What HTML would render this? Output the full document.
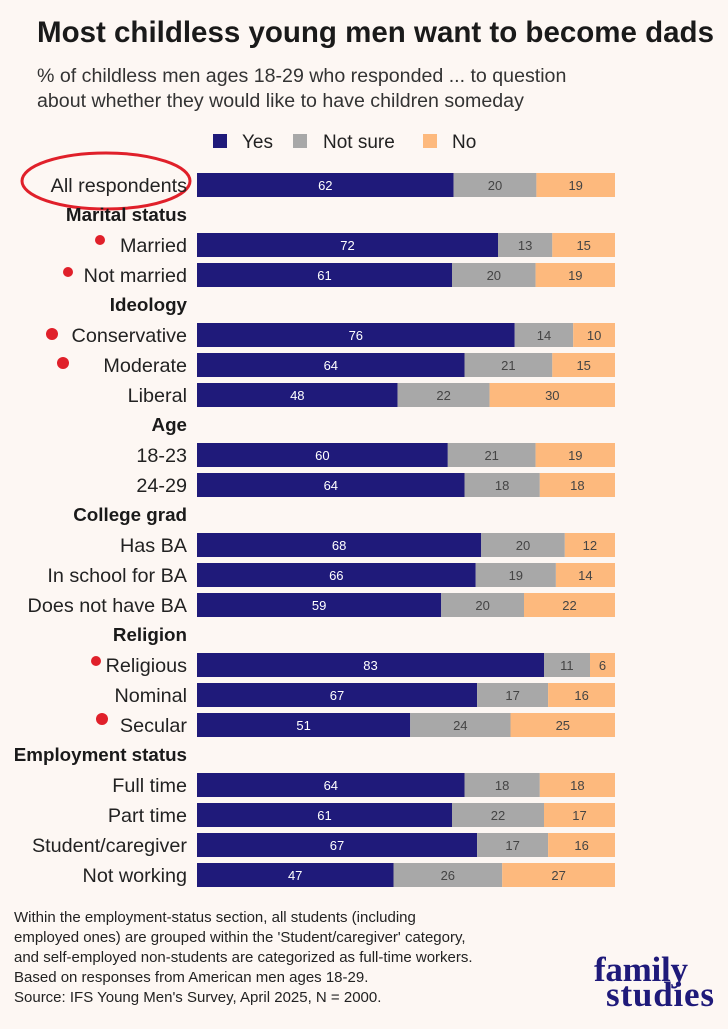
<!DOCTYPE html>
<html><head><meta charset="utf-8"><style>
body{margin:0;background:#fdf7f3;}
svg text{font-family:"Liberation Sans",sans-serif;}
.l{font-size:19.8px;text-anchor:end;fill:#222}
.h{font-size:18.8px;font-weight:bold;text-anchor:end;fill:#1a1a1a}
.v{font-size:13px;text-anchor:middle;fill:#444}
.w{font-size:13px;text-anchor:middle;fill:#fff}
.y{fill:#1f1a7a}.n{fill:#a8a8a8}.o{fill:#fdb97d}
</style></head><body>
<svg width="728" height="1024" viewBox="0 0 728 1024" xmlns="http://www.w3.org/2000/svg">
<rect width="728" height="1024" fill="#fdf7f3"/>
<text x="37" y="42" font-size="29.5" font-weight="bold" fill="#1a1a1a">Most childless young men want to become dads</text>
<text x="37" y="82" font-size="19.6" fill="#333">% of childless men ages 18-29 who responded ... to question</text>
<text x="37" y="107" font-size="19.6" fill="#333">about whether they would like to have children someday</text>
<rect x="213" y="134" width="14" height="14" fill="#1f1a7a"/><text x="242" y="148" font-size="19" fill="#222">Yes</text>
<rect x="293" y="134" width="14" height="14" fill="#a8a8a8"/><text x="323" y="148" font-size="19" fill="#222">Not sure</text>
<rect x="423" y="134" width="14" height="14" fill="#fdb97d"/><text x="452" y="148" font-size="19" fill="#222">No</text>
<ellipse cx="106" cy="181" rx="84" ry="28" fill="none" stroke="#e0202a" stroke-width="3"/>

<g transform="translate(0,185)"><text x="187" y="7" class="l">All respondents</text><rect x="197" y="-12" width="256.6" height="24" class="y"/><rect x="453.6" y="-12" width="82.8" height="24" class="n"/><rect x="536.4" y="-12" width="78.6" height="24" class="o"/><text x="325.3" y="5" class="w">62</text><text x="495" y="5" class="v">20</text><text x="575.7" y="5" class="v">19</text></g>
<text x="187" y="221" class="h">Marital status</text>
<g transform="translate(0,245)"><text x="187" y="7" class="l">Married</text><rect x="197" y="-12" width="301" height="24" class="y"/><rect x="498" y="-12" width="54.3" height="24" class="n"/><rect x="552.3" y="-12" width="62.7" height="24" class="o"/><text x="347.5" y="5" class="w">72</text><text x="525.1" y="5" class="v">13</text><text x="583.7" y="5" class="v">15</text></g>
<g transform="translate(0,275)"><text x="187" y="7" class="l">Not married</text><rect x="197" y="-12" width="255" height="24" class="y"/><rect x="452" y="-12" width="83.6" height="24" class="n"/><rect x="535.6" y="-12" width="79.4" height="24" class="o"/><text x="324.5" y="5" class="w">61</text><text x="493.8" y="5" class="v">20</text><text x="575.3" y="5" class="v">19</text></g>
<text x="187" y="311" class="h">Ideology</text>
<g transform="translate(0,335)"><text x="187" y="7" class="l">Conservative</text><rect x="197" y="-12" width="317.7" height="24" class="y"/><rect x="514.7" y="-12" width="58.5" height="24" class="n"/><rect x="573.2" y="-12" width="41.8" height="24" class="o"/><text x="355.8" y="5" class="w">76</text><text x="544" y="5" class="v">14</text><text x="594.1" y="5" class="v">10</text></g>
<g transform="translate(0,365)"><text x="187" y="7" class="l">Moderate</text><rect x="197" y="-12" width="267.5" height="24" class="y"/><rect x="464.5" y="-12" width="87.8" height="24" class="n"/><rect x="552.3" y="-12" width="62.7" height="24" class="o"/><text x="330.8" y="5" class="w">64</text><text x="508.4" y="5" class="v">21</text><text x="583.7" y="5" class="v">15</text></g>
<g transform="translate(0,395)"><text x="187" y="7" class="l">Liberal</text><rect x="197" y="-12" width="200.6" height="24" class="y"/><rect x="397.6" y="-12" width="92" height="24" class="n"/><rect x="489.6" y="-12" width="125.4" height="24" class="o"/><text x="297.3" y="5" class="w">48</text><text x="443.6" y="5" class="v">22</text><text x="552.3" y="5" class="v">30</text></g>
<text x="187" y="431" class="h">Age</text>
<g transform="translate(0,455)"><text x="187" y="7" class="l">18-23</text><rect x="197" y="-12" width="250.8" height="24" class="y"/><rect x="447.8" y="-12" width="87.8" height="24" class="n"/><rect x="535.6" y="-12" width="79.4" height="24" class="o"/><text x="322.4" y="5" class="w">60</text><text x="491.7" y="5" class="v">21</text><text x="575.3" y="5" class="v">19</text></g>
<g transform="translate(0,485)"><text x="187" y="7" class="l">24-29</text><rect x="197" y="-12" width="267.5" height="24" class="y"/><rect x="464.5" y="-12" width="75.3" height="24" class="n"/><rect x="539.8" y="-12" width="75.2" height="24" class="o"/><text x="330.8" y="5" class="w">64</text><text x="502.1" y="5" class="v">18</text><text x="577.4" y="5" class="v">18</text></g>
<text x="187" y="521" class="h">College grad</text>
<g transform="translate(0,545)"><text x="187" y="7" class="l">Has BA</text><rect x="197" y="-12" width="284.2" height="24" class="y"/><rect x="481.2" y="-12" width="83.6" height="24" class="n"/><rect x="564.8" y="-12" width="50.2" height="24" class="o"/><text x="339.1" y="5" class="w">68</text><text x="523" y="5" class="v">20</text><text x="589.9" y="5" class="v">12</text></g>
<g transform="translate(0,575)"><text x="187" y="7" class="l">In school for BA</text><rect x="197" y="-12" width="278.7" height="24" class="y"/><rect x="475.7" y="-12" width="80.2" height="24" class="n"/><rect x="555.9" y="-12" width="59.1" height="24" class="o"/><text x="336.3" y="5" class="w">66</text><text x="515.8" y="5" class="v">19</text><text x="585.4" y="5" class="v">14</text></g>
<g transform="translate(0,605)"><text x="187" y="7" class="l">Does not have BA</text><rect x="197" y="-12" width="244.2" height="24" class="y"/><rect x="441.2" y="-12" width="82.8" height="24" class="n"/><rect x="524" y="-12" width="91" height="24" class="o"/><text x="319.1" y="5" class="w">59</text><text x="482.6" y="5" class="v">20</text><text x="569.5" y="5" class="v">22</text></g>
<text x="187" y="641" class="h">Religion</text>
<g transform="translate(0,665)"><text x="187" y="7" class="l">Religious</text><rect x="197" y="-12" width="347" height="24" class="y"/><rect x="544" y="-12" width="46" height="24" class="n"/><rect x="590" y="-12" width="25" height="24" class="o"/><text x="370.5" y="5" class="w">83</text><text x="566.9" y="5" class="v">11</text><text x="602.5" y="5" class="v">6</text></g>
<g transform="translate(0,695)"><text x="187" y="7" class="l">Nominal</text><rect x="197" y="-12" width="280.1" height="24" class="y"/><rect x="477.1" y="-12" width="71" height="24" class="n"/><rect x="548.1" y="-12" width="66.9" height="24" class="o"/><text x="337" y="5" class="w">67</text><text x="512.6" y="5" class="v">17</text><text x="581.6" y="5" class="v">16</text></g>
<g transform="translate(0,725)"><text x="187" y="7" class="l">Secular</text><rect x="197" y="-12" width="213.2" height="24" class="y"/><rect x="410.2" y="-12" width="100.3" height="24" class="n"/><rect x="510.5" y="-12" width="104.5" height="24" class="o"/><text x="303.6" y="5" class="w">51</text><text x="460.3" y="5" class="v">24</text><text x="562.8" y="5" class="v">25</text></g>
<text x="187" y="761" class="h">Employment status</text>
<g transform="translate(0,785)"><text x="187" y="7" class="l">Full time</text><rect x="197" y="-12" width="267.5" height="24" class="y"/><rect x="464.5" y="-12" width="75.3" height="24" class="n"/><rect x="539.8" y="-12" width="75.2" height="24" class="o"/><text x="330.8" y="5" class="w">64</text><text x="502.1" y="5" class="v">18</text><text x="577.4" y="5" class="v">18</text></g>
<g transform="translate(0,815)"><text x="187" y="7" class="l">Part time</text><rect x="197" y="-12" width="255" height="24" class="y"/><rect x="452" y="-12" width="92" height="24" class="n"/><rect x="544" y="-12" width="71" height="24" class="o"/><text x="324.5" y="5" class="w">61</text><text x="498" y="5" class="v">22</text><text x="579.5" y="5" class="v">17</text></g>
<g transform="translate(0,845)"><text x="187" y="7" class="l">Student/caregiver</text><rect x="197" y="-12" width="280.1" height="24" class="y"/><rect x="477.1" y="-12" width="71" height="24" class="n"/><rect x="548.1" y="-12" width="66.9" height="24" class="o"/><text x="337" y="5" class="w">67</text><text x="512.6" y="5" class="v">17</text><text x="581.6" y="5" class="v">16</text></g>
<g transform="translate(0,875)"><text x="187" y="7" class="l">Not working</text><rect x="197" y="-12" width="196.5" height="24" class="y"/><rect x="393.5" y="-12" width="108.7" height="24" class="n"/><rect x="502.2" y="-12" width="112.8" height="24" class="o"/><text x="295.2" y="5" class="w">47</text><text x="447.8" y="5" class="v">26</text><text x="558.6" y="5" class="v">27</text></g>

<g fill="#e0202a">
<circle cx="100" cy="240" r="5"/><circle cx="68" cy="272" r="5"/><circle cx="52" cy="334" r="6"/><circle cx="63" cy="363" r="6"/><circle cx="96" cy="661" r="5"/><circle cx="102" cy="719" r="6"/>
</g>
<text x="14" y="922" font-size="15" fill="#222">Within the employment-status section, all students (including</text>
<text x="14" y="942" font-size="15" fill="#222">employed ones) are grouped within the 'Student/caregiver' category,</text>
<text x="14" y="962" font-size="15" fill="#222">and self-employed non-students are categorized as full-time workers.</text>
<text x="14" y="982" font-size="15" fill="#222">Based on responses from American men ages 18-29.</text>
<text x="14" y="1002" font-size="15" fill="#222">Source: IFS Young Men's Survey, April 2025, N = 2000.</text>
<text x="594" y="981" font-size="35" font-weight="bold" fill="#1f1a7a" textLength="94" style="font-family:'Liberation Serif',serif">family</text>
<text x="606" y="1006" font-size="35" font-weight="bold" fill="#1f1a7a" textLength="108" style="font-family:'Liberation Serif',serif">studies</text>
</svg>
</body></html>
